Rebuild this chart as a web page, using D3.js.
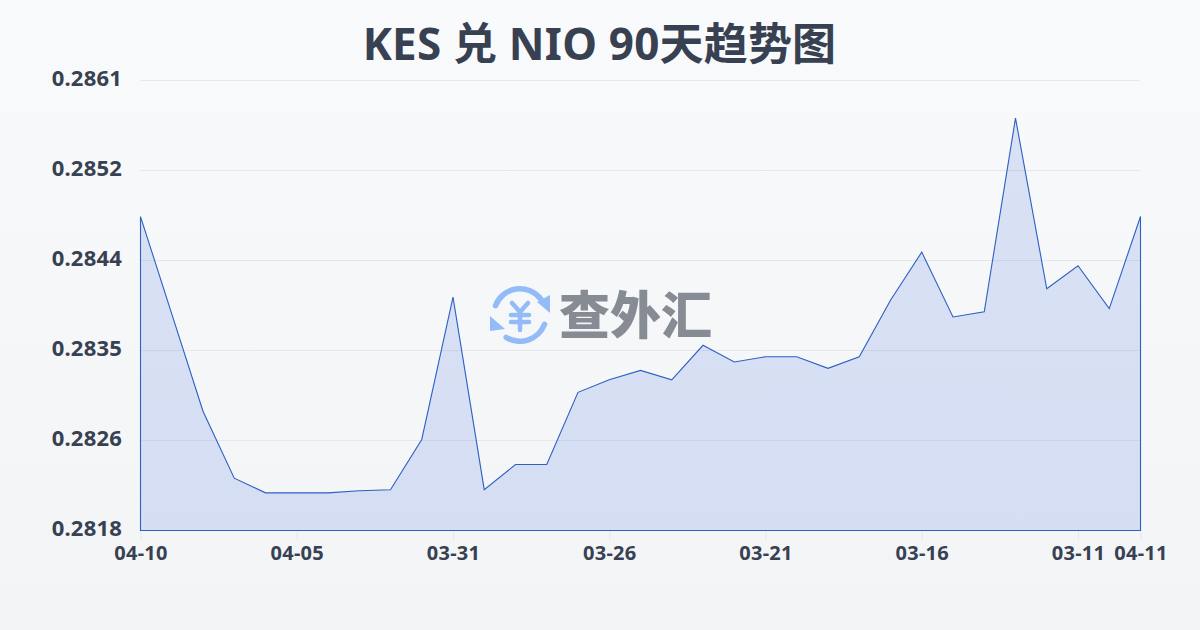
<!DOCTYPE html>
<html><head><meta charset="utf-8">
<style>html,body{margin:0;padding:0;background:#f5f7fa}svg{display:block}text{font-family:"Noto Sans","Noto Sans CJK SC",sans-serif}</style>
<script src="https://cdn.jsdelivr.net/npm/d3@7/dist/d3.min.js"></script></head><body>
<div id="chart"></div>
<script>
const titleText = "KES 兑 NIO 90天趋势图";
const watermark = "查外汇";
const dates = ["04-10","04-09","04-08","04-07","04-06","04-05","04-04","04-03","04-02","04-01","03-31","03-30","03-29","03-28","03-27","03-26","03-25","03-24","03-23","03-22","03-21","03-20","03-19","03-18","03-17","03-16","03-15","03-14","03-13","03-12","03-11","03-10","04-11"];
const rates = [0.2848,0.28387,0.28294,0.2823,0.28216,0.28216,0.28216,0.28218,0.28219,0.28267,0.28403,0.28219,0.28243,0.28243,0.28312,0.28324,0.28333,0.28324,0.28357,0.28341,0.28346,0.28346,0.28335,0.28346,0.284,0.28446,0.28384,0.28389,0.28574,0.28411,0.28433,0.28392,0.2848];
const yTicks = [0.2818,0.2826,0.2835,0.2844,0.2852,0.2861];
const yGridValues = [0.2818,0.28266,0.28352,0.28438,0.28524,0.2861];
const xTickLabels = ["04-10","04-05","03-31","03-26","03-21","03-16","03-11","04-11"];
const xTickIndex = [0,5,10,15,20,25,30,32];

const W=1200,H=630,L=140,R=1140,T=80,B=530;
const svg=d3.select("#chart").append("svg").attr("width",W).attr("height",H);
const defs=svg.append("defs");
const bg=defs.append("linearGradient").attr("id","bg").attr("x1",0).attr("y1",0).attr("x2",0).attr("y2",1);
bg.append("stop").attr("offset",0).attr("stop-color","#f9fafb");
bg.append("stop").attr("offset",1).attr("stop-color","#f3f4f6");
svg.append("rect").attr("width",W).attr("height",H).attr("fill","url(#bg)");

const x=d3.scaleLinear().domain([0,dates.length-1]).range([L,R]);
const y=d3.scaleLinear().domain([0.2818,0.2861]).range([B,T]);
const font='"Noto Sans","Noto Sans CJK SC",sans-serif';

svg.append("text").attr("x",599.5).attr("y",60).attr("text-anchor","middle")
  .attr("font-size",44).attr("font-weight",700).attr("letter-spacing",0.2).attr("fill","#374151").text(titleText);

svg.append("g").selectAll("line").data(yGridValues).join("line")
  .attr("x1",L).attr("x2",R).attr("y1",d=>Math.round(y(d))+.5).attr("y2",d=>Math.round(y(d))+.5)
  .attr("stroke","#e5e7eb").attr("stroke-width",1);

const gx=svg.append("g").attr("transform",`translate(0.5,${B})`)
  .call(d3.axisBottom(x).tickValues(xTickIndex).tickSize(10).tickPadding(6).tickFormat((d,i)=>xTickLabels[i]));
gx.select(".domain").remove();
gx.selectAll("line").attr("stroke","#e5e7eb");
gx.selectAll("text").attr("font-size",20).attr("font-weight",700).attr("letter-spacing",0.3).attr("fill","#374151").style("font-family",font);

const gy=svg.append("g").attr("transform",`translate(${L},0)`)
  .call(d3.axisLeft(y).tickValues(yGridValues).tickSize(0).tickPadding(18).tickFormat((d,i)=>yTicks[i].toFixed(4)));
gy.select(".domain").remove();
gy.selectAll("text").attr("font-size",22).attr("font-weight",700).attr("letter-spacing",0.2).attr("fill","#374151").attr("dy","0.25em").style("font-family",font);

const area=d3.area().x((d,i)=>x(i)).y0(B).y1(d=>y(d));
svg.append("path").attr("transform","translate(0.5,0.5)").attr("d",area(rates))
  .attr("fill","#2860d8").attr("fill-opacity",.15)
  .attr("stroke","#2d5fc4").attr("stroke-width",1.1);

const logoColor="#93bbf7";
const logo=svg.append("g").attr("transform","translate(520,315)");
const arc=d3.arc().innerRadius(23.5).outerRadius(29).cornerRadius(2.7);
logo.append("path").attr("d",arc({startAngle:-1.31,endAngle:1.03})).attr("fill",logoColor);
logo.append("path").attr("d",arc({startAngle:1.83,endAngle:3.8})).attr("fill",logoColor);
logo.append("path").attr("d","M17,-13L30,-20L30,-2Z").attr("fill",logoColor);
logo.append("path").attr("d","M-30,1L-15,14L-30,16Z").attr("fill",logoColor);
logo.append("path").attr("d","M-8,-12L0,-3L8,-12M-9,0H9M-9,7H9M0,-3V15").attr("fill","none").attr("stroke",logoColor).attr("stroke-width",4.5).attr("stroke-linecap","round").attr("stroke-linejoin","round");
svg.append("text").attr("x",559).attr("y",334).attr("font-size",51).attr("font-weight",900).attr("fill","#868b94")
  .style("font-family",'"Noto Sans CJK SC"').text(watermark);
</script></body></html>
